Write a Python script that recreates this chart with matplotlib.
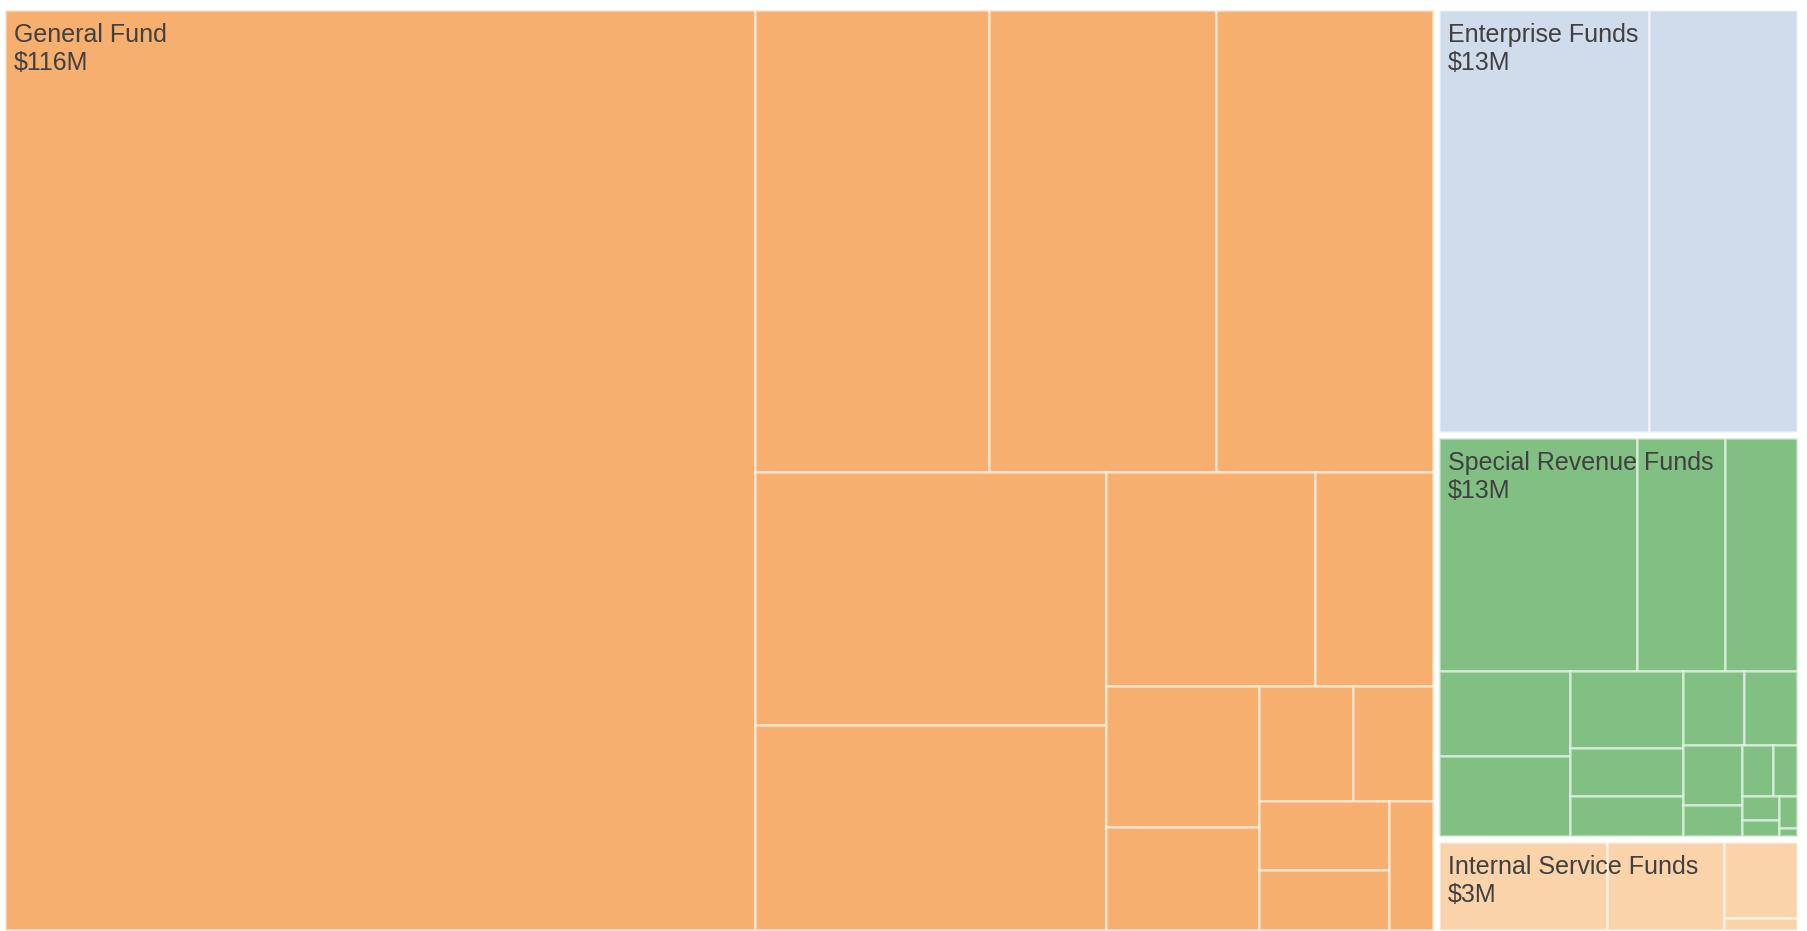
import matplotlib.pyplot as plt
from matplotlib.patches import Rectangle

# Fund groups, values in $M
fund_names = ["General Fund", "Enterprise Funds", "Special Revenue Funds", "Internal Service Funds"]
fund_labels = ["$116M", "$13M", "$13M", "$3M"]
fund_colors = ["#f6af6f", "#cedcec", "#82bf83", "#fad3ab"]

# line items inside each fund ($M)
general_fund = [61.03, 9.56, 9.28, 8.87, 7.85, 6.36, 3.96, 2.23, 1.91, 1.39,
                0.96, 0.81, 0.79, 0.69, 0.50]
enterprise_funds = [7.98, 5.65]
special_revenue_funds = [4.158, 1.857, 1.520, 1.009, 0.949, 0.781, 0.497, 0.405,
                         0.400, 0.355, 0.321, 0.166, 0.143, 0.111, 0.080, 0.054,
                         0.052, 0.013]
internal_service_funds = [1.399, 0.980, 0.528, 0.083]

fund_items = [general_fund, enterprise_funds, special_revenue_funds, internal_service_funds]

PHI = (1 + 5 ** 0.5) / 2


def squarify(values, x0, y0, x1, y1, ratio=PHI):
    # squarified rows, same rule as d3.treemapSquarify
    rects = []
    value = float(sum(values))
    n = len(values)
    i0 = 0
    while i0 < n:
        dx, dy = x1 - x0, y1 - y0
        s = values[i0]
        vmin = vmax = s
        alpha = max(dy / dx, dx / dy) / (value * ratio)
        beta = s * s * alpha
        best = max(vmax / beta, beta / vmin)
        i1 = i0 + 1
        while i1 < n:
            v = values[i1]
            s2 = s + v
            beta = s2 * s2 * alpha
            r = max(max(vmax, v) / beta, beta / min(vmin, v))
            if r > best:
                break
            s, best = s2, r
            vmin, vmax = min(vmin, v), max(vmax, v)
            i1 += 1
        row = values[i0:i1]
        if dx < dy:
            # dice: row across the top
            h = dy * s / value
            cx = x0
            for v in row:
                w = dx * v / s
                rects.append((cx, y0, w, h))
                cx += w
            y0 += h
        else:
            # slice: column on the left
            w = dx * s / value
            cy = y0
            for v in row:
                h = dy * v / s
                rects.append((x0, cy, w, h))
                cy += h
            x0 += w
        value -= s
        i0 = i1
    return rects


left, top, right, bottom = 5, 10, 1797, 930
pad = 6

fig = plt.figure(figsize=(18.08, 9.31), dpi=100)
ax = fig.add_axes([0, 0, 1, 1])
ax.set_xlim(0, 1808)
ax.set_ylim(931, 0)
ax.axis("off")

totals = [sum(items) for items in fund_items]
groups = squarify(totals, left - pad / 2, top - pad / 2, right + pad / 2, bottom + pad / 2)

for (gx, gy, gw, gh), items, name, lab, col in zip(groups, fund_items, fund_names,
                                                   fund_labels, fund_colors):
    gx, gy = gx + pad / 2, gy + pad / 2
    gw, gh = gw - pad, gh - pad
    for (x, y, w, h) in squarify(items, gx, gy, gx + gw, gy + gh):
        ax.add_patch(Rectangle((x, y), w, h, facecolor=col,
                               edgecolor=(1, 1, 1, 0.5), linewidth=1.8))
    ax.text(gx + 9, gy + 32, name, fontsize=18, color="#404040",
            family="Liberation Sans", va="baseline", zorder=5)
    ax.text(gx + 9, gy + 60, lab, fontsize=18, color="#404040",
            family="Liberation Sans", va="baseline", zorder=5)

fig.savefig("out.png", dpi=100, facecolor="white")
